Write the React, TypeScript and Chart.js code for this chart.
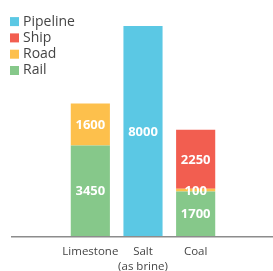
import { useEffect, useRef } from 'react';
import { Chart, registerables } from 'chart.js';

Chart.register(...registerables);

const categories: (string | string[])[] = ['Limestone', ['Salt', '(as brine)'], 'Coal'];
const seriesNames = ['Rail', 'Road', 'Ship', 'Pipeline'];
const railValues = [3450, null, 1700];
const roadValues = [1600, null, 100];
const shipValues = [null, null, 2250];
const pipelineValues = [null, 8000, null];
const seriesColors = ['#86c88a', '#fdc04c', '#f25e50', '#5bc8e4'];
const legendOrder = ['Pipeline', 'Ship', 'Road', 'Rail'];

export default function App() {
  const ref = useRef<HTMLCanvasElement | null>(null);

  useEffect(() => {
    document.body.style.margin = '0';
    const canvas = ref.current;
    if (!canvas) return;

    const valueLabels = {
      id: 'valueLabels',
      afterDatasetsDraw(chart: any) {
        const ctx = chart.ctx;
        ctx.save();
        ctx.fillStyle = '#ffffff';
        ctx.font = 'bold 13px "Open Sans"';
        ctx.textAlign = 'center';
        ctx.textBaseline = 'middle';
        chart.data.datasets.forEach((ds: any, di: number) => {
          const meta = chart.getDatasetMeta(di);
          meta.data.forEach((el: any, i: number) => {
            const v = ds.data[i];
            if (v == null) return;
            ctx.fillText(String(v), el.x, (el.y + el.base) / 2 + 1);
          });
        });
        ctx.restore();
      },
    };

    const baseline = {
      id: 'baseline',
      afterDatasetsDraw(chart: any) {
        const ctx = chart.ctx;
        const y = chart.scales.y.getPixelForValue(0) + 0.75;
        ctx.save();
        ctx.strokeStyle = '#8c8c8c';
        ctx.lineWidth = 1.5;
        ctx.beginPath();
        ctx.moveTo(11, y);
        ctx.lineTo(chart.width, y);
        ctx.stroke();
        ctx.restore();
      },
    };

    const legendBox = {
      id: 'legendBox',
      afterDraw(chart: any) {
        const ctx = chart.ctx;
        ctx.save();
        ctx.font = '14px "Open Sans"';
        ctx.textBaseline = 'middle';
        ctx.textAlign = 'left';
        legendOrder.forEach((name, i) => {
          const idx = seriesNames.indexOf(name);
          const cy = 21.6 + i * 16.3;
          ctx.fillStyle = seriesColors[idx];
          ctx.fillRect(10, cy - 4.5, 9, 9);
          ctx.fillStyle = '#454545';
          ctx.fillText(name, 23, cy);
        });
        ctx.restore();
      },
    };

    const allValues = [railValues, roadValues, shipValues, pipelineValues];

    const chart = new Chart(canvas, {
      type: 'bar',
      data: {
        labels: categories as any,
        datasets: seriesNames.map((name, i) => ({
          label: name,
          data: allValues[i] as any,
          backgroundColor: seriesColors[i],
          borderWidth: 0,
          barPercentage: 0.743,
          categoryPercentage: 1,
        })),
      },
      options: {
        animation: false,
        responsive: false,
        maintainAspectRatio: false,
        layout: { padding: { left: 64, right: 51, top: 26, bottom: 0 } },
        plugins: {
          legend: { display: false },
          tooltip: { enabled: false },
        },
        scales: {
          x: {
            stacked: true,
            grid: { display: false, drawTicks: false },
            border: { display: false },
            ticks: {
              color: '#454545',
              font: { family: '"Open Sans"', size: 11.5, lineHeight: 1.3 },
              padding: 8,
              maxRotation: 0,
              autoSkip: false,
            },
            afterFit(scale: any) {
              scale.height = 35;
            },
          },
          y: {
            stacked: true,
            display: false,
            min: 0,
            max: 8000,
          },
        },
      },
      plugins: [valueLabels, baseline, legendBox],
    });

    return () => chart.destroy();
  }, []);

  return (
    <div style={{ width: 273, height: 271, overflow: 'hidden' }}>
      <canvas ref={ref} width={273} height={271} />
    </div>
  );
}
